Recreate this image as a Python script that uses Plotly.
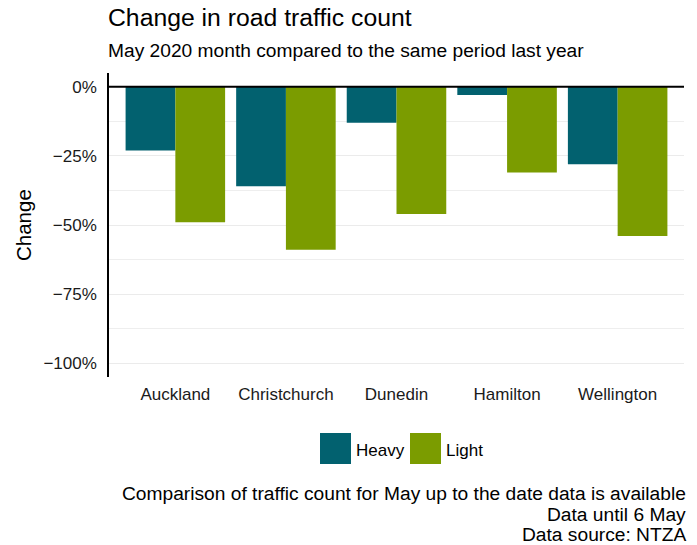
import plotly.graph_objects as go

cities = ["Auckland", "Christchurch", "Dunedin", "Hamilton", "Wellington"]
heavy = [-23, -36, -13, -3, -28]
light = [-49, -59, -46, -31, -54]
tick_vals = [0, -25, -50, -75, -100]
tick_text = ["0%", "\u221225%", "\u221250%", "\u221275%", "\u2212100%"]
series_names = ["Heavy", "Light"]
series_colors = ["#02616F", "#7B9C00"]

FONT = "Liberation Sans, Arial, sans-serif"

# layout constants (pixels)
L, R, T, B = 109, 13, 73, 168
W, H = 697, 545
PW, PH = W - L - R, H - T - B


def px_x(p):
    return (p - L) / PW


def px_y(p):
    return (H - B - p) / PH


fig = go.Figure()
for name, vals, col in zip(series_names, [heavy, light], series_colors):
    fig.add_trace(go.Bar(x=cities, y=vals, name=name, marker_color=col,
                         marker_line_width=0, showlegend=False))

fig.update_layout(
    width=W, height=H,
    margin=dict(l=L, r=R, t=T, b=B),
    plot_bgcolor="white", paper_bgcolor="white",
    barmode="group", bargap=0.1, bargroupgap=0,
    font=dict(family=FONT, color="black"),
    showlegend=False,
    xaxis=dict(range=[-0.6, 4.6], showgrid=False, showline=False, ticks="",
               ticklabelstandoff=5,
               tickfont=dict(size=17, color="#1a1a1a")),
    yaxis=dict(range=[-105, 5], tickvals=tick_vals, ticktext=tick_text,
               showgrid=True, gridcolor="#EBEBEB", gridwidth=1.3,
               minor=dict(tickvals=[-12.5, -37.5, -62.5, -87.5], showgrid=True,
                          gridcolor="#EEEEEE", gridwidth=1),
               showline=True, linecolor="black", linewidth=1.6, zeroline=False,
               ticks="", ticklabelstandoff=7,
               tickfont=dict(size=17, color="#1a1a1a")),
)

fig.add_shape(type="line", xref="paper", yref="y", x0=0, x1=1, y0=0, y1=0,
              line=dict(color="black", width=2))

# y-axis title
fig.add_annotation(text="Change", xref="paper", yref="paper", x=px_x(23), y=0.5,
                   xanchor="center", yanchor="middle", textangle=-90, showarrow=False,
                   font=dict(size=20.5, color="black"))

# title and subtitle
fig.add_annotation(text="Change in road traffic count", xref="paper", yref="paper",
                   x=px_x(106), y=px_y(18), xanchor="left", yanchor="middle", showarrow=False,
                   font=dict(size=24.75, color="black"))
fig.add_annotation(text="May 2020 month compared to the same period last year", xref="paper",
                   yref="paper", x=px_x(106), y=px_y(51), xanchor="left", yanchor="middle",
                   showarrow=False, font=dict(size=19.2, color="black"))

# manual legend with large keys
leg_keys = [(320, 351), (410, 441)]
leg_text_x = [354, 444]
for name, col, (k0, k1), tx in zip(series_names, series_colors, leg_keys, leg_text_x):
    fig.add_shape(type="rect", xref="paper", yref="paper",
                  x0=px_x(k0), x1=px_x(k1), y0=px_y(433), y1=px_y(464),
                  fillcolor=col, line=dict(width=0))
    fig.add_annotation(text=name, xref="paper", yref="paper", x=px_x(tx), y=px_y(450),
                       xanchor="left", yanchor="middle", showarrow=False,
                       font=dict(size=17, color="black"))

# caption
caption_lines = ["Comparison of traffic count for May up to the date data is available",
                 "Data until 6 May", "Data source: NTZA"]
for line, cy in zip(caption_lines, [493, 514, 534]):
    fig.add_annotation(text=line, xref="paper", yref="paper", x=px_x(688), y=px_y(cy),
                       xanchor="right", yanchor="middle", showarrow=False,
                       font=dict(size=19.2, color="black"))

fig.write_html("out.html", config={"displayModeBar": False},
               post_script="document.body.style.margin='0';")
